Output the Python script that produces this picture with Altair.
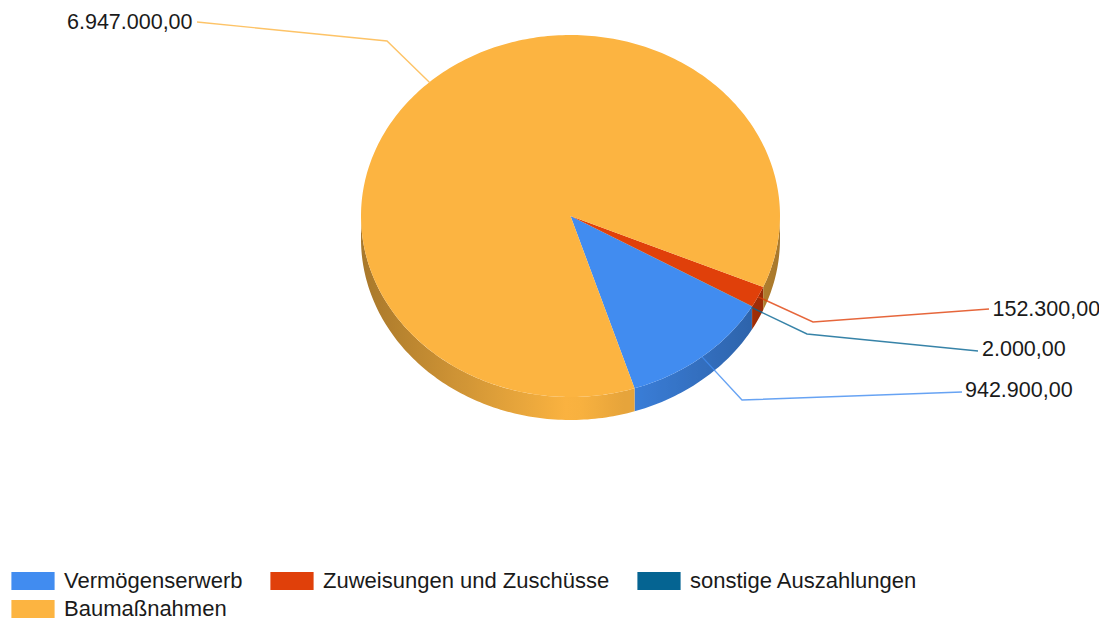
import math
import altair as alt
import pandas as pd

CATEGORIES = ["Vermögenserwerb", "Zuweisungen und Zuschüsse", "sonstige Auszahlungen", "Baumaßnahmen"]
VALUES = [942900.0, 152300.0, 2000.0, 6947000.0]
COLORS = ["#418CF0", "#E0400A", "#056492", "#FCB441"]
VALUE_TEXTS = ["942.900,00", "152.300,00", "2.000,00", "6.947.000,00"]
# drawing order, counter-clockwise from the first slice edge
SWEEP_ORDER = [0, 2, 1, 3]
START_ANGLE = 162.2
CX, CY, RX, RY, DEPTH = 570.5, 216.0, 209.5, 181.0, 23.0
# leader-line elbow and end, label start
ELBOWS = [(742, 400), (813, 322), (807, 334), (387, 41)]
ENDS = [(962, 392), (989, 309), (978, 351), (197, 22)]
LABEL_AT = [(965, 391), (992.5, 310), (982, 350), (67, 23)]
SPLIT_ANCHOR = {2: 120.3}


def pt(a, dy=0.0):
    r = math.radians(a)
    return CX + RX * math.sin(r), CY - RY * math.cos(r) + dy


def shade(hex_color, a):
    f = 1 - 0.33 * abs(math.sin(math.radians(a)))
    rgb = [int(hex_color[i:i + 2], 16) for i in (1, 3, 5)]
    return "#%02x%02x%02x" % tuple(int(c * f) for c in rgb)


total = sum(VALUES)
spans = {}
angle = START_ANGLE
for i in SWEEP_ORDER:
    sweep = VALUES[i] / total * 360
    spans[i] = (angle, angle - sweep)
    angle -= sweep

tops, leaders, labels = [], [], []
for i in range(len(CATEGORIES)):
    a0, a1 = spans[i]
    mid = SPLIT_ANCHOR.get(i, (a0 + a1) / 2)
    ax, ay = pt(mid)
    for k, (x, y) in enumerate([(ax, ay), ELBOWS[i], ENDS[i]]):
        leaders.append(dict(cat=CATEGORIES[i], i=k, x=x, y=y))
    labels.append(dict(t=VALUE_TEXTS[i], x=LABEL_AT[i][0], y=LABEL_AT[i][1]))
    steps = max(2, int((a0 - a1) / 1.0))
    tops.append(dict(cat=CATEGORIES[i], i=0, x=CX, y=CY))
    for s in range(steps + 1):
        x, y = pt(a0 - (a0 - a1) * s / steps)
        tops.append(dict(cat=CATEGORIES[i], i=s + 1, x=x, y=y))

xs = alt.Scale(domain=[8, 1099], nice=False, zero=False)
ys = alt.Scale(domain=[622, 8], nice=False, zero=False)
X = alt.X("x:Q", scale=xs, axis=None)
Y = alt.Y("y:Q", scale=ys, axis=None)
color_scale = alt.Scale(domain=CATEGORIES, range=COLORS)
FONT = "Liberation Sans"

# visible side wall: lower half of the ellipse only (90 to 270 degrees, also as -270 to -90)
wall_layers = []
for i in SWEEP_ORDER:
    a0, a1 = spans[i]
    for lo, hi in [(90, 270), (-270, -90)]:
        b0, b1 = min(a0, hi), max(a1, lo)
        if b0 - b1 <= 0.01:
            continue
        n = max(2, int((b0 - b1) / 1.0))
        angles = [b0 - (b0 - b1) * s / n for s in range(n + 1)]
        pts = [pt(a) for a in angles] + [pt(a, DEPTH) for a in reversed(angles)]
        rows = [dict(i=k, x=x, y=y) for k, (x, y) in enumerate(pts)]
        xvals = [pt(a)[0] for a in angles]
        xmin, xmax = min(xvals), max(xvals)
        span = max(xmax - xmin, 1e-6)
        ordered = sorted(angles, key=lambda a: pt(a)[0])
        stops = [
            alt.GradientStop(offset=(pt(a)[0] - xmin) / span, color=shade(COLORS[i], a))
            for a in ordered[:: max(1, len(ordered) // 24)]
        ]
        if len(stops) < 2:
            stops = [alt.GradientStop(offset=0, color=shade(COLORS[i], b0)),
                     alt.GradientStop(offset=1, color=shade(COLORS[i], b1))]
        wall_layers.append(
            alt.Chart(pd.DataFrame(rows)).mark_line(
                filled=True, interpolate="linear-closed", strokeWidth=0,
                fill=alt.Gradient(gradient="linear", stops=stops, x1=0, x2=1, y1=0, y2=0),
            ).encode(x=X, y=Y, order="i:Q")
        )

leader_layer = alt.Chart(pd.DataFrame(leaders)).mark_line(strokeWidth=1.4, opacity=0.8).encode(
    x=X, y=Y, order="i:Q", detail="cat:N",
    stroke=alt.Stroke("cat:N", scale=color_scale, legend=None),
)

top_layer = alt.Chart(pd.DataFrame(tops)).mark_line(
    filled=True, interpolate="linear-closed", strokeWidth=0
).encode(
    x=X, y=Y, order="i:Q",
    color=alt.Color(
        "cat:N", scale=color_scale,
        legend=alt.Legend(
            title=None, orient="none", direction="horizontal", legendX=14, legendY=562, columns=3,
            symbolType="M-2.4,-1H2.4V1H-2.4Z", symbolSize=324, symbolStrokeWidth=0,
            labelFont=FONT, labelFontSize=22, labelColor="#1a1a1a",
            labelOffset=20, columnPadding=27, rowPadding=6, padding=0, labelLimit=400,
        ),
    ),
)

text_layer = alt.Chart(pd.DataFrame(labels)).mark_text(
    font=FONT, fontSize=21.5, align="left", baseline="middle", color="#1a1a1a"
).encode(x=X, y=Y, text="t:N")

chart = (
    alt.layer(*wall_layers, leader_layer, top_layer, text_layer)
    .resolve_scale(color="independent", stroke="independent")
    .properties(width=1091, height=614, padding=0, autosize=alt.AutoSizeParams(type="none"))
    .configure_view(stroke=None)
)
chart.save("out.html", embed_options={"renderer": "svg", "actions": False})
